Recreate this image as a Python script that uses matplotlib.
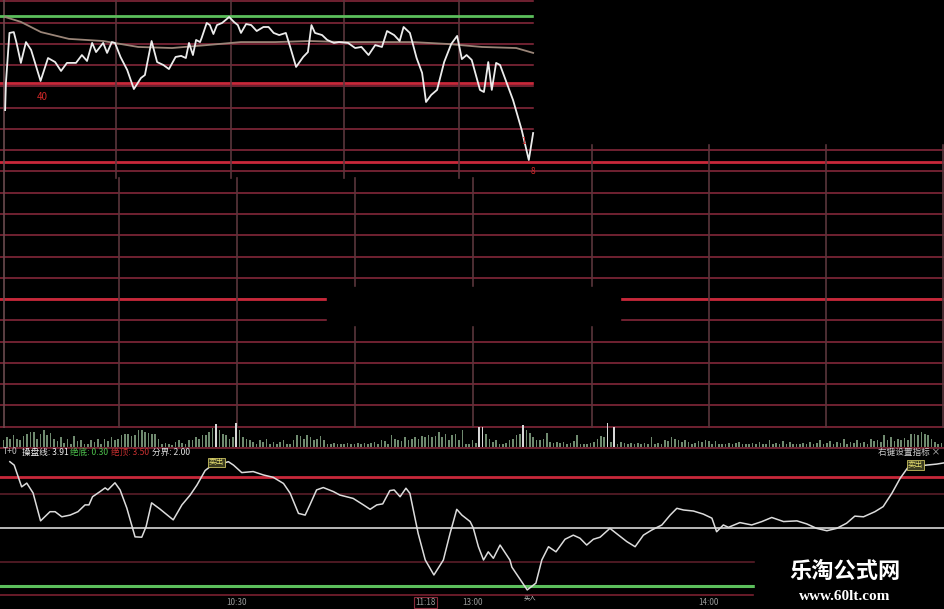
import numpy as np
import matplotlib.pyplot as plt
from matplotlib.patches import Rectangle

plt.rcParams['font.family'] = ['Noto Sans CJK SC', 'DejaVu Sans']

BG = "#000000"
GRID = "#8e2b3e"
GRID_HOT = "#c8283a"
VGRID = "#5a363c"
GREEN = "#5cbf5c"
WHITE = "#ececec"
AVG = "#9a8578"
VOLC = "#6f8a6f"

# ---- price panel: minutes since 9:30, price in grid steps ----
price_t = [1.3, 1.5, 2.4, 3.5, 4.2, 5.3, 6.6, 7.9, 10.3, 12.2, 14.0, 15.5, 17.0, 19.3, 20.8,
           22.1, 23.4, 24.4, 26.2, 27.2, 28.4, 29.2, 30.6, 32.3, 34.0, 35.8, 36.8, 38.5, 39.9,
           41.5, 42.9, 44.6, 46.0, 47.2, 48.0, 49.0, 49.8, 50.8, 51.2, 52.5, 53.3, 54.2, 55.1,
           56.4, 58.2, 59.4, 60.4, 61.2, 62.5, 63.8, 65.2, 66.9, 68.2, 69.5, 70.9, 72.6, 73.7,
           75.2, 77.0, 78.2, 79.1, 80.0, 81.8, 83.1, 84.8, 86.1, 88.4, 90.2, 91.8, 93.6, 95.3,
           97.0, 98.3, 100.1, 101.5, 102.5, 104.1, 105.8, 107.2, 108.2, 109.5, 111.0, 112.8,
           114.6, 116.1, 117.3, 118.5, 119.8, 121.9, 122.9, 124.0, 124.9, 126.0, 127.0, 128.4,
           130.3, 132.5, 134.3, 135.4]
price_v = [8.89, 10.16, 12.52, 12.56, 12.05, 11.11, 12.09, 11.72, 10.26, 11.34, 11.15, 10.73,
           11.11, 11.11, 11.48, 11.20, 12.05, 11.62, 12.05, 11.58, 12.09, 12.05, 11.39, 10.78,
           9.88, 10.40, 10.54, 12.14, 11.15, 11.01, 10.82, 11.39, 11.44, 11.34, 12.05, 11.48,
           12.19, 12.09, 12.28, 12.99, 12.89, 12.47, 12.89, 12.99, 13.27, 13.04, 12.89, 12.52,
           12.94, 12.89, 12.61, 12.80, 12.80, 12.52, 12.42, 12.52, 11.86, 10.92, 11.39, 11.62,
           12.89, 12.52, 12.42, 12.19, 12.05, 12.09, 12.05, 11.81, 11.86, 11.48, 11.95, 11.86,
           12.61, 12.42, 12.14, 12.80, 12.52, 11.34, 10.64, 9.27, 9.60, 9.84, 11.15, 12.00,
           12.38, 11.29, 11.48, 11.25, 9.84, 9.74, 11.15, 9.84, 11.11, 11.01, 10.31, 9.36,
           7.95, 6.54, 7.81]
avg_t = [1.3, 5.3, 10.4, 17.5, 26.2, 35.1, 43.7, 52.6, 61.2, 69.9, 78.7, 87.4, 96.3, 104.9,
         113.8, 122.4, 131.1, 135.4]
avg_v = [13.27, 13.04, 12.56, 12.24, 12.14, 11.86, 11.81, 11.95, 12.09, 12.09, 12.14, 12.09,
         12.09, 12.09, 12.00, 11.86, 11.81, 11.58]
grid_levels = list(range(-6, 15))
hot_levels = [10.18, 6.46, 0.0]
top_level = 13.32

# ---- volume (relative heights) ----
vol = [20, 30, 25, 35, 25, 20, 32, 40, 45, 45, 25, 40, 52, 35, 42, 25, 18, 30, 12, 25, 10, 32,
       18, 20, 10, 8, 20, 15, 25, 10, 25, 18, 30, 20, 25, 35, 40, 40, 32, 35, 50, 52, 45, 42,
       40, 38, 25, 10, 12, 8, 5, 14, 20, 12, 8, 20, 22, 30, 25, 35, 35, 45, 58, 68, 50, 40, 35,
       25, 30, 72, 50, 30, 25, 20, 15, 10, 20, 15, 25, 10, 15, 8, 15, 20, 10, 8, 20, 35, 32,
       25, 35, 30, 20, 25, 32, 20, 8, 8, 12, 8, 10, 8, 12, 10, 8, 12, 10, 12, 8, 12, 15, 10,
       20, 18, 10, 35, 25, 20, 18, 30, 22, 25, 30, 25, 32, 30, 35, 30, 32, 45, 30, 38, 20, 35,
       40, 20, 50, 10,
       10, 20, 12, 60, 60, 40, 25, 15, 20, 10, 8, 12, 20, 25, 35, 40, 65, 50, 42, 30, 22, 20,
       25, 42, 15, 12, 15, 12, 14, 10, 12, 18, 35, 10, 8, 10, 12, 15, 25, 32, 30, 72, 15, 60,
       10, 15, 12, 8, 12, 10, 12, 8, 12, 10, 30, 8, 12, 10, 20, 18, 30, 25, 22, 15, 20, 15,
       10, 12, 18, 15, 20, 18, 10, 18, 8, 10, 8, 12, 8, 12, 15, 8, 10, 8, 12, 8, 14, 8, 10,
       20, 8, 12, 10, 18, 8, 14, 10, 10, 8, 12, 10, 15, 8, 12, 20, 10, 12, 18, 10, 15, 12, 25,
       10, 14, 12, 20, 12, 15, 10, 25, 18, 20, 14, 35, 20, 30, 18, 25, 22, 28, 20, 38, 40, 35,
       45, 38, 35, 25, 15, 10, 12]

# ---- T+0 indicator ----
ind_t = [2.5, 3.6, 5.5, 6.8, 8.4, 10.3, 12.7, 14.0, 15.7, 17.8, 19.8, 21.6, 22.6, 23.5, 25.4,
         26.7, 27.4, 29.2, 30.5, 32.2, 34.3, 36.0, 37.1, 38.5, 40.6, 44.0, 46.2, 48.3, 50.0,
         52.1, 53.3, 55.9, 58.0, 59.3, 61.4, 64.3, 66.9, 69.4, 72.0, 73.7, 75.8, 77.5, 78.7,
         80.4, 82.1, 84.7, 86.3, 89.7, 92.3, 94.0, 95.7, 97.2, 99.0, 100.1, 101.6, 103.1, 104.1,
         106.2, 108.0, 110.2, 112.6, 114.3, 116.0, 117.3, 119.4, 120.2, 121.5, 122.8, 124.0,
         125.3, 127.0, 129.5, 130.0, 133.9, 136.1, 137.6, 139.3, 141.2, 143.5, 145.6, 147.3,
         149.0, 150.7, 152.4, 154.9, 157.1, 159.2, 161.3, 163.4, 165.5, 168.1, 170.2, 171.9,
         173.6, 176.1, 178.6, 180.8, 182.0, 183.7, 185.0, 187.9, 190.9, 193.5, 196.0, 199.0,
         202.4, 204.9, 207.4, 210.0, 212.5, 215.0, 217.1, 219.3, 222.2, 224.3, 226.5, 228.6,
         230.7, 233.2, 235.3, 237.9, 240.0]
ind_v = [3.95, 3.85, 3.21, 3.32, 3.03, 2.21, 2.48, 2.48, 2.33, 2.38, 2.48, 2.68, 2.68, 2.92,
         3.07, 3.18, 3.12, 3.33, 3.12, 2.59, 1.74, 1.73, 2.04, 2.74, 2.56, 2.24, 2.68, 2.97,
         3.26, 3.69, 3.80, 3.88, 3.95, 3.85, 3.63, 3.66, 3.56, 3.49, 3.31, 3.02, 2.43, 2.38,
         2.68, 3.12, 3.19, 3.07, 2.97, 2.87, 2.68, 2.55, 2.68, 2.71, 3.10, 3.12, 2.92, 3.17,
         3.02, 1.84, 1.06, 0.62, 1.06, 1.84, 2.55, 2.38, 2.19, 2.00, 1.45, 1.06, 1.30, 1.11,
         1.50, 1.06, 0.85, 0.18, 0.38, 1.06, 1.45, 1.30, 1.67, 1.79, 1.70, 1.50, 1.67, 1.73,
         1.99, 1.79, 1.60, 1.45, 1.79, 1.94, 2.09, 2.38, 2.58, 2.53, 2.50, 2.41, 2.29, 1.89,
         2.09, 2.02, 2.16, 2.09, 2.19, 2.31, 2.19, 2.21, 2.12, 1.99, 1.92, 1.99, 2.14, 2.35,
         2.33, 2.48, 2.63, 3.02, 3.46, 3.80, 3.82, 3.85, 3.88, 3.92]
ind_top, ind_mid, ind_bottom = 3.50, 2.00, 0.30
ind_faint = [3.0, 1.0]
sell_marks = [(55.0, 3.88), (232.5, 3.80)]
buy_mark = (134.5, 0.18)

time_ticks = [60, 108, 120, 180]
time_labels = ["10:30", "11:18", "13:00", "14:00"]

W, H = 945, 609
fig = plt.figure(figsize=(W / 100, H / 100), dpi=100, facecolor=BG)

def panel(top_px, bottom_px):
    a = fig.add_axes([0, 1 - bottom_px / H, 1, (bottom_px - top_px) / H])
    a.set_facecolor("none")
    a.set_axis_off()
    a.set_xlim(0, 240)
    return a

# ---- main price panel ----
ax = panel(0, 428)
ax.set_ylim(-6.07, 14.07)
for lv in grid_levels:
    ax.axhline(lv, color=GRID, lw=1.1, zorder=1)
for lv in hot_levels:
    ax.axhline(lv, color=GRID_HOT, lw=2.0, zorder=1)
ax.axhline(top_level, color=GREEN, lw=2.0, zorder=2)
split = 5.7
for t in [30.2, 60.2, 90.2, 120.1]:
    ax.plot([t, t], [-6.07, split], color=VGRID, lw=1.2, zorder=1)
for t in [29.5, 58.7, 87.4, 116.6]:
    ax.plot([t, t], [split, 14.07], color=VGRID, lw=1.2, zorder=1)
for t in [150.3, 180.0, 209.8, 239.6]:
    ax.axvline(t, color=VGRID, lw=1.2, zorder=1)
ax.axvline(1.0, color="#6a4a4e", lw=1.2, zorder=1)
# blanked-out areas of the screenshot
ax.add_patch(Rectangle((135.6, 7.34), 110, 8, color=BG, zorder=3))
ax.add_patch(Rectangle((83.0, -1.22), 74.5, 1.78, color=BG, zorder=3))
ax.plot(avg_t, avg_v, color=AVG, lw=1.3, zorder=4)
ax.plot(price_t, price_v, color=WHITE, lw=1.3, zorder=5)
ax.text(10.8, 9.5, "40", color="#d02828", fontsize=7, ha="center", va="center", zorder=6)
ax.text(133.0, 7.4, "1", color="#d02828", fontsize=6, ha="center", va="center", zorder=6)
ax.text(135.4, 6.0, "8", color="#d02828", fontsize=6, ha="center", va="center", zorder=6)

# ---- volume ----
axv = fig.add_axes([0, 1 - 450 / H, 1, 30 / H])
axv.set_facecolor("none")
axv.set_axis_off()
axv.set_xlim(-1, len(vol))
axv.set_ylim(-9, 81)
vcols = ["#d8d8d8" if v >= 60 else VOLC for v in vol]
axv.bar(range(len(vol)), vol, width=0.5, color=vcols, zorder=2)
axv.axhline(-3, color=GRID, lw=1.1)

# ---- T+0 indicator ----
axi = panel(450, 594)
axi.set_ylim(0.06, 4.294)
axi.axhline(ind_top, color=GRID_HOT, lw=2.0)
for lv in ind_faint:
    axi.axhline(lv, color="#5a1e28", lw=1.2)
axi.axhline(ind_mid, color="#d8d8d8", lw=1.2)
axi.axhline(ind_bottom, color=GREEN, lw=2.2)
axi.plot(ind_t, ind_v, color="#dcdcdc", lw=1.1, zorder=4)
for t, v in sell_marks:
    axi.text(t, v + 0.05, "卖出", color="#e8e070", fontsize=5.5, ha="center", va="center",
             zorder=5, bbox=dict(boxstyle="square,pad=0.1", fc="#3a3a20", ec="#c8c060", lw=0.6))
axi.text(buy_mark[0], buy_mark[1] - 0.1, "买入", color="#c8c8c8", fontsize=4.5,
         ha="center", va="top", zorder=5)

hy = 1 - 452 / H
for x, s, c in [(3, "T+0", "#bdbdbd"), (22, "操盘线: 3.91", "#f0f0f0"),
                (70, "绝底: 0.30", "#4cc04c"), (111, "绝顶: 3.50", "#c83030"),
                (152, "分界: 2.00", "#e0e0e0")]:
    fig.text(x / W, hy, s, color=c, fontsize=6.2, ha="left", va="center")
fig.text(940 / W, hy, "右键设置指标 ×", color="#d0d0d0", fontsize=6.2, ha="right", va="center")

# ---- time axis ----
axt = panel(594, 609)
axt.set_ylim(0, 1)
axt.axhline(0.95, color="#7a2030", lw=1.2, xmax=753 / W)
for t, lab in zip(time_ticks, time_labels):
    bb = dict(boxstyle="square,pad=0.15", fc=BG, ec="#8a2a3a", lw=0.8) if lab == "11:18" else None
    axt.text(t, 0.45, lab, color="#9a9a9a", fontsize=5.8, ha="center", va="center", bbox=bb)

# ---- watermark ----
fig.patches.append(Rectangle((755 / W, 0), 190 / W, 59 / H, transform=fig.transFigure,
                             color=BG, zorder=10))
fig.text(845 / W, 1 - 571 / H, "乐淘公式网", color="white", fontsize=16, fontweight="bold",
         ha="center", va="center", zorder=11)
fig.text(845 / W, 1 - 597 / H, "www.60lt.com", color="white", fontsize=11, fontweight="bold",
         family="Liberation Serif", ha="center", va="center", zorder=11)

fig.savefig("out.png", dpi=100, facecolor=BG)
